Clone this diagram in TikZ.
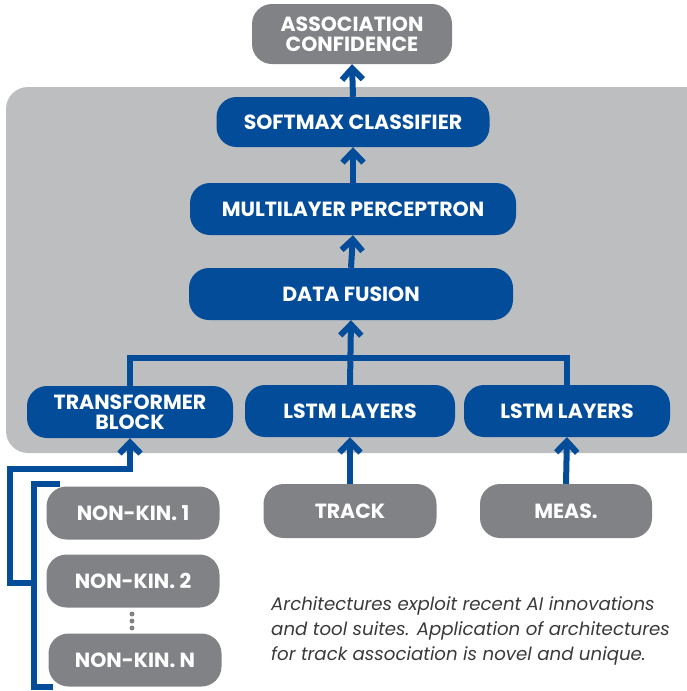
\documentclass[tikz,border=0pt]{standalone}
\usepackage{fontspec}
\setmainfont{Poppins}
\usetikzlibrary{arrows.meta}
\definecolor{nblue}{HTML}{034C9A}
\definecolor{ngray}{HTML}{808285}
\definecolor{panel}{HTML}{BCBEC0}
\definecolor{ctext}{HTML}{3A3A3C}
\begin{document}
\begin{tikzpicture}[x=1pt,y=-1pt,
  box/.style={rounded corners=20pt, text=white, font=\bfseries\fontsize{20.5}{20}\selectfont, align=center, inner sep=0pt},
  bluebox/.style={box, fill=nblue},
  graybox/.style={box, fill=ngray},
  conn/.style={draw=nblue, line width=6pt},
  arr/.style={conn, -{Straight Barb[length=11pt,width=21pt]}}]
\useasboundingbox (0,0) rectangle (686,691);
\fill[panel, rounded corners=22pt] (6,87) rectangle (708,453);
\node[graybox, minimum width=200pt, minimum height=60pt] (assoc) at (352,34) {ASSOCIATION\\CONFIDENCE};
\node[bluebox, minimum width=273pt, minimum height=50pt] (softmax) at (353,122) {SOFTMAX CLASSIFIER};
\node[bluebox, minimum width=326pt, minimum height=52pt] (mlp) at (353,209) {MULTILAYER PERCEPTRON};
\node[bluebox, minimum width=324pt, minimum height=52pt] (fusion) at (351,294) {DATA FUSION};
\node[bluebox, minimum width=206pt, minimum height=52pt] (trans) at (130,412) {TRANSFORMER\\BLOCK};
\node[bluebox, minimum width=210pt, minimum height=52pt] (lstm1) at (350,411) {LSTM LAYERS};
\node[bluebox, minimum width=206pt, minimum height=52pt] (lstm2) at (567,411) {LSTM LAYERS};
\node[graybox, minimum width=173pt, minimum height=53pt] (nk1) at (133,513) {NON-KIN. 1};
\node[graybox, minimum width=173pt, minimum height=53pt] (nk2) at (133,581) {NON-KIN. 2};
\node[graybox, minimum width=173pt, minimum height=53pt] (nkn) at (135,660) {NON-KIN. N};
\node[graybox, minimum width=173pt, minimum height=54pt] (track) at (350,511) {TRACK};
\node[graybox, minimum width=172pt, minimum height=54pt] (meas) at (566,511) {MEAS.};
\foreach \yy in {614,621,628} \fill[ngray] (132,\yy) circle (2.5pt);
\draw[arr] (softmax.north) -- (assoc.south);
\draw[arr] (mlp.north) -- (softmax.south);
\draw[arr] (fusion.north) -- (mlp.south);
\coordinate (hj) at (350,358);
\draw[conn] (trans.north) |- (hj) -| (lstm2.north);
\draw[arr] (lstm1.north) -- (fusion.south);
\draw[arr] (track.north) -- (lstm1.south);
\draw[arr] (meas.north) -- (lstm2.south);
\coordinate (b1) at (10,469);
\coordinate (b2) at (10,583);
\coordinate (b3) at (34,583);
\draw[arr] (b3) -- (b2) -- (b1) -| (trans.south);
\coordinate (c1) at (60,484);
\coordinate (c2) at (34,484);
\coordinate (c3) at (34,687);
\coordinate (c4) at (53,687);
\draw[conn] (c1) -- (c2) -- (c3) -- (c4);
\node[anchor=north west, align=left, text=ctext, inner sep=0pt, font=\itshape\fontsize{18.2}{25}\selectfont] (cap) at (271,596) {Architectures exploit recent AI innovations\\and tool suites. Application of architectures\\for track association is novel and unique.};
\end{tikzpicture}
\end{document}
